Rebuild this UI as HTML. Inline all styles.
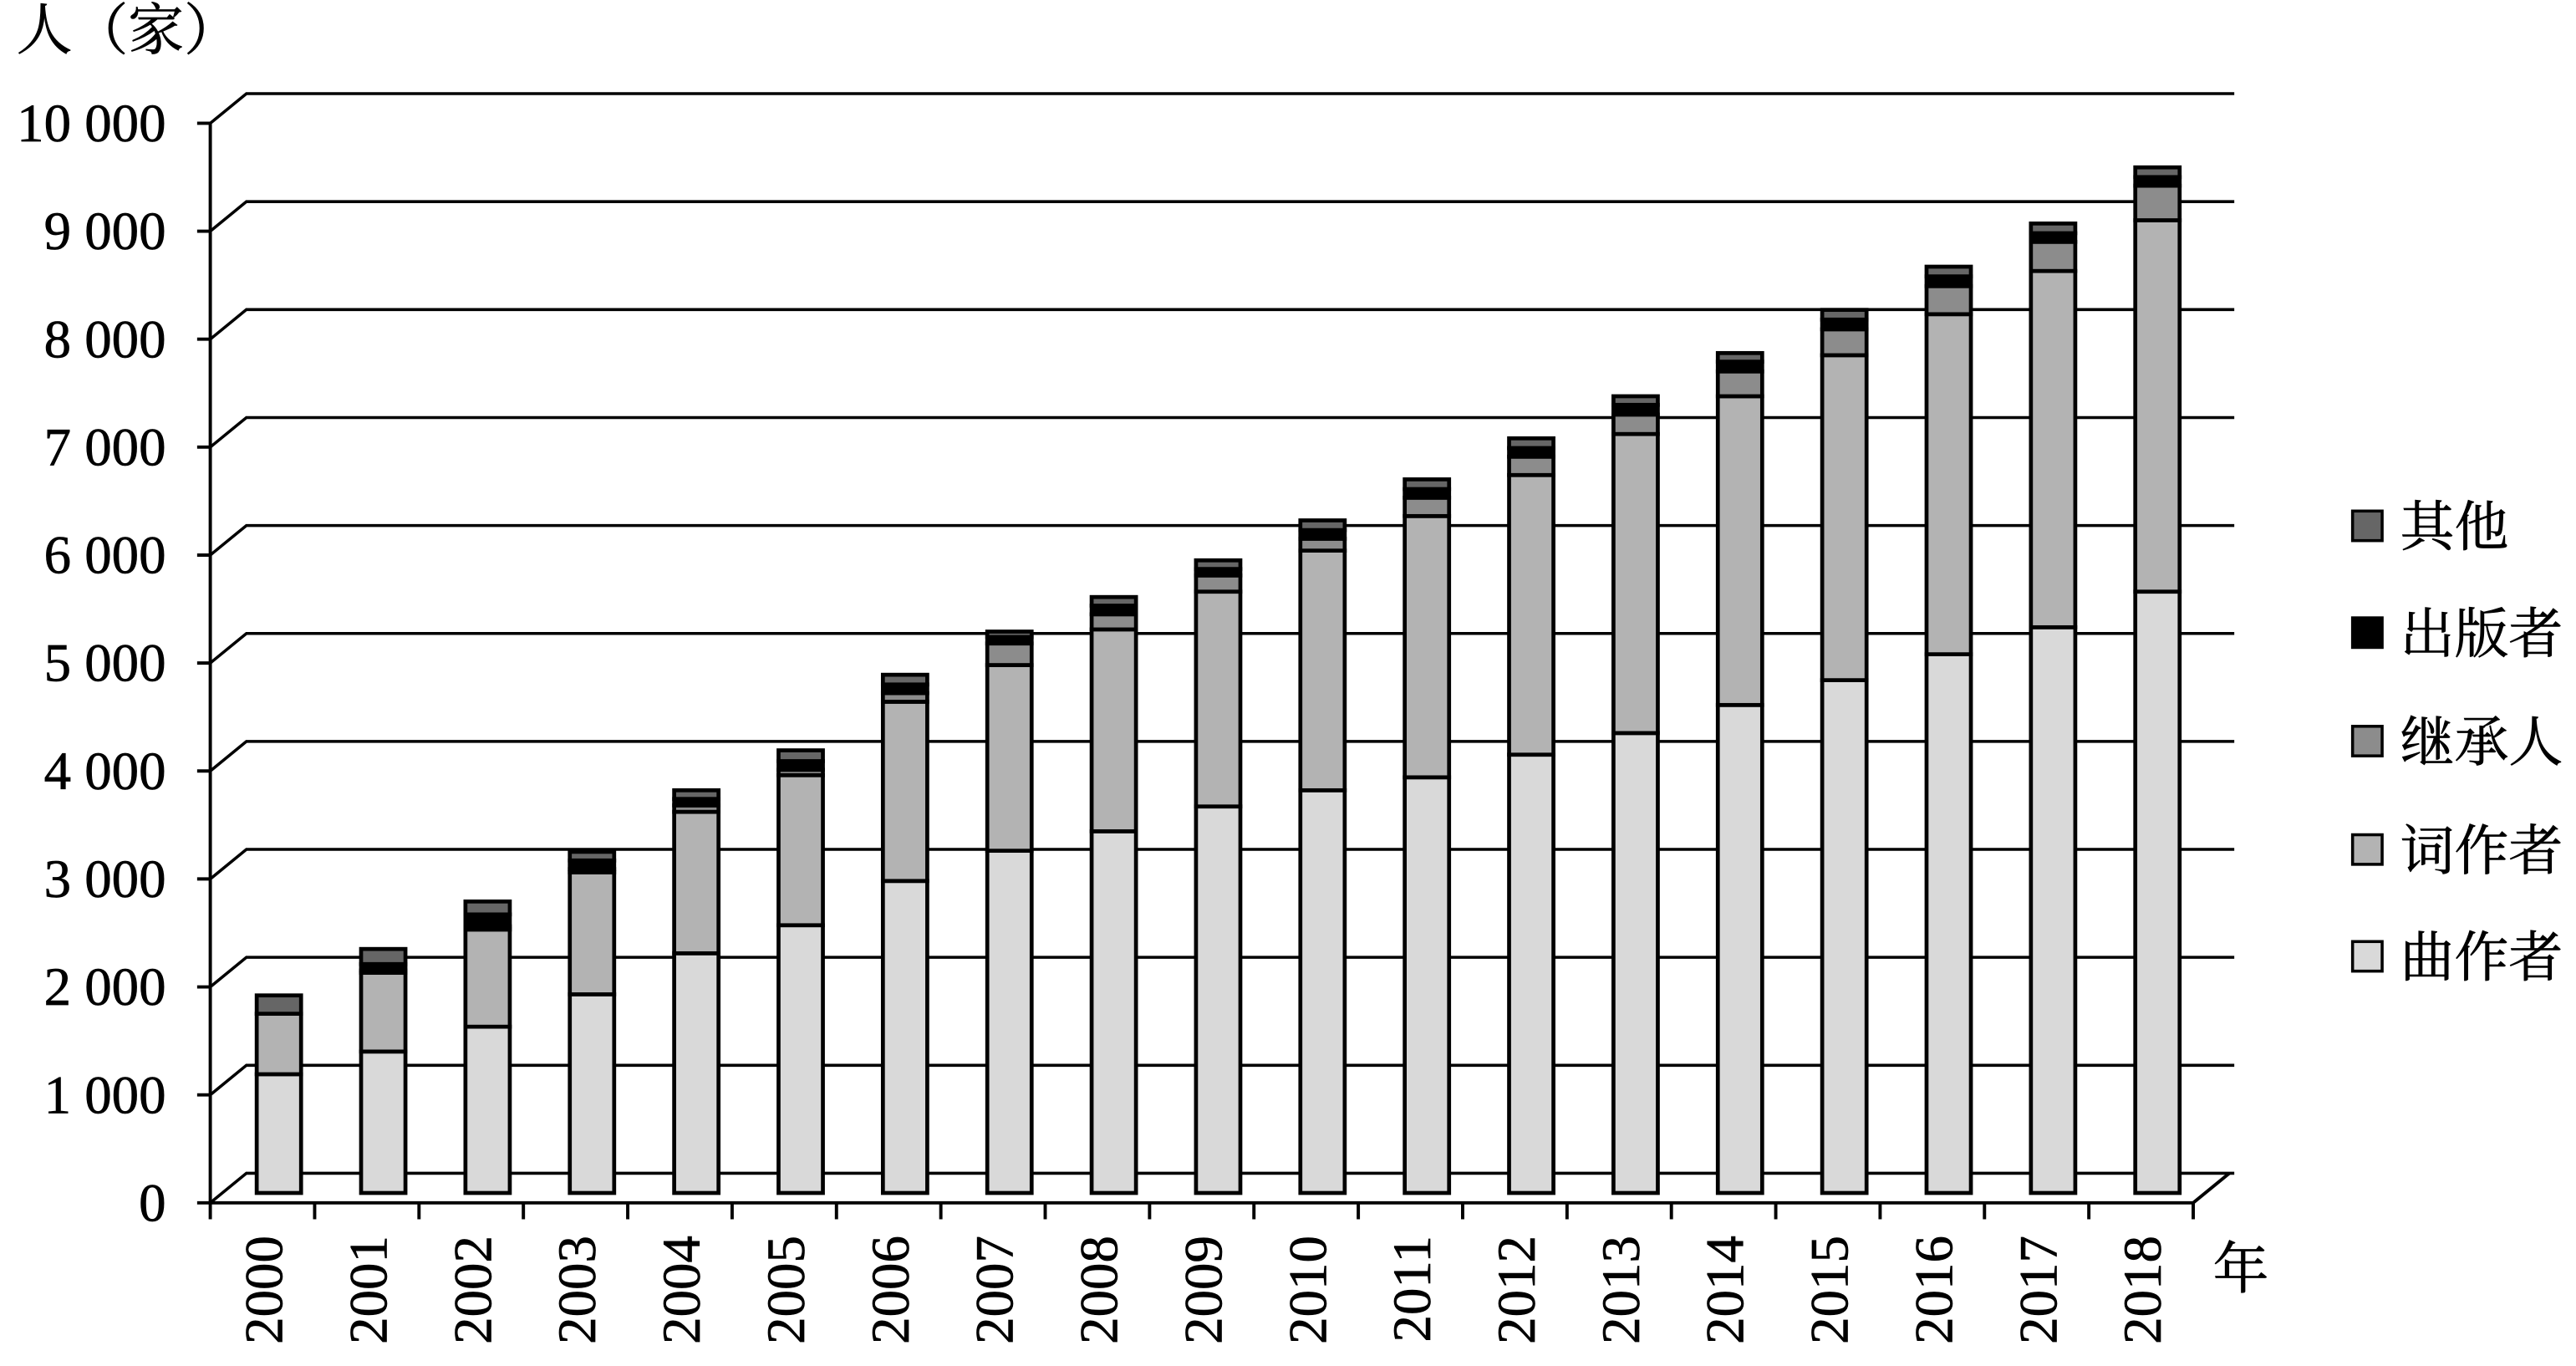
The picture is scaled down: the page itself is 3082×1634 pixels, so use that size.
<!DOCTYPE html>
<html><head><meta charset="utf-8"><style>
html,body{margin:0;padding:0;background:#fff}
svg{display:block}
text{font-family:"Liberation Serif","Noto Serif CJK SC",serif;fill:#000;stroke:#000;stroke-width:0.35}
</style></head><body>
<svg id="chart" width="3082" height="1634" viewBox="0 0 1568 831.3" preserveAspectRatio="none" xmlns="http://www.w3.org/2000/svg">
<g id="grid"></g>
<g id="bars"></g>
<g id="axes"></g>
<g id="legend"></g>
<text x="10" y="30" font-size="34">人（家）</text>
<text x="1347" y="784" font-size="34">年</text>
</svg>
<script>
const years = ["2000","2001","2002","2003","2004","2005","2006","2007","2008","2009","2010","2011","2012","2013","2014","2015","2016","2017","2018"];
const composers = [1100,1310,1540,1840,2220,2480,2890,3170,3350,3580,3730,3850,4060,4260,4520,4750,4990,5240,5570];
const lyricists = [560,730,900,1130,1310,1390,1660,1720,1870,1990,2220,2420,2590,2770,2860,3010,3150,3300,3440];
const heirs = [0,20,30,30,60,50,80,200,140,150,110,170,170,180,230,240,260,270,320];
const publishers = [0,60,110,80,60,80,80,60,80,60,80,80,80,90,90,90,90,80,80];
const others = [170,140,120,80,80,100,90,50,80,80,90,90,90,80,80,90,90,90,90];
const yTicks = [0,1000,2000,3000,4000,5000,6000,7000,8000,9000,10000];
const yTickLabels = ["0","1 000","2 000","3 000","4 000","5 000","6 000","7 000","8 000","9 000","10 000"];
const seriesNames = ["曲作者","词作者","继承人","出版者","其他"];
const seriesKeys = ["composers","lyricists","heirs","publishers","others"];
const seriesColors = ["#d9d9d9","#b3b3b3","#8c8c8c","#000000","#666666"];

const NS="http://www.w3.org/2000/svg";
const X0=128, Y0=732, PX=1000/65.7, DX=22, DY=18, SLOT=(1335-128)/years.length;
function yFront(v){return Y0 - v/PX;}
function yBar(v){return 726 - v/PX;}
function xSlot(i){return X0 + i*SLOT;}
function mk(tag,attrs,parent){const e=document.createElementNS(NS,tag);for(const k in attrs)e.setAttribute(k,attrs[k]);parent.appendChild(e);return e;}
const grid=document.getElementById('grid'),bars=document.getElementById('bars'),axes=document.getElementById('axes'),legend=document.getElementById('legend');

yTicks.forEach((t,i)=>{
  const yf=yFront(t);
  const g=mk('polyline',{points:`${X0},${yf} ${X0+DX},${yf-DY} 1360,${yf-DY}`,fill:'none',stroke:'#000','stroke-width':1.8},grid);
  
  
  const tk=mk('line',{x1:X0-8,y1:yf,x2:X0,y2:yf,stroke:'#000','stroke-width':2},axes);
  
  
  const lb=mk('text',{x:101,y:yf+11,'font-size':33,'text-anchor':'end'},axes);
  lb.textContent=yTickLabels[i];
  
  
});
const data={composers,lyricists,heirs,publishers,others};
years.forEach((yr,i)=>{
  const cx=xSlot(i)+SLOT/2+10;
  let acc=0;
  seriesKeys.forEach((k,s)=>{
    const v=data[k][i]; if(v<=0) return;
    const r=mk('rect',{x:cx-13.5,y:yBar(acc+v),width:27,height:v/PX,fill:seriesColors[s],stroke:'#000','stroke-width':2.4},bars);
    
    
    acc+=v;
  });
  const t=mk('text',{x:0,y:0,'font-size':33,'text-anchor':'end',transform:`translate(${xSlot(i)+SLOT/2+12},752) rotate(-90)`},axes);
  t.textContent=yr;
  
  
});
for(let i=0;i<=years.length;i++){
  const tk=mk('line',{x1:xSlot(i),y1:Y0,x2:xSlot(i),y2:Y0+10,stroke:'#000','stroke-width':2},axes);
  
  
}
const ya=mk('line',{x1:X0,y1:yFront(10000),x2:X0,y2:Y0,stroke:'#000','stroke-width':2},axes);


const xa=mk('polyline',{points:`${X0},${Y0} 1335,${Y0} 1357,${Y0-DY}`,fill:'none',stroke:'#000','stroke-width':2},axes);


const legY=[582,517,451,385,320];
seriesNames.forEach((n,s)=>{
  const r=mk('rect',{x:1432,y:legY[s]-9,width:18,height:18,fill:seriesColors[s],stroke:'#000','stroke-width':1.8},legend);
  
  
  const t=mk('text',{x:1461,y:legY[s]+12,'font-size':33},legend);
  t.textContent=n;
  
  
});
</script>
</body></html>
